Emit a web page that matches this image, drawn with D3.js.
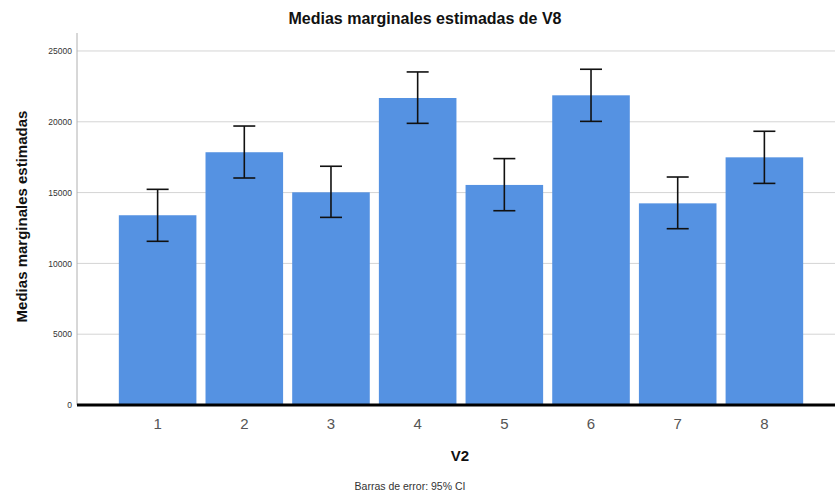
<!DOCTYPE html>
<html>
<head>
<meta charset="utf-8">
<script src="https://cdn.jsdelivr.net/npm/d3@7"></script>
<style>
  html, body { margin: 0; padding: 0; background: #fff; }
  svg { display: block; font-family: "Liberation Sans", Arial, sans-serif; }
</style>
</head>
<body>
<svg id="chart" width="835" height="495"></svg>
<script>
const categories = ["1", "2", "3", "4", "5", "6", "7", "8"];
const means = [13400, 17850, 15020, 21680, 15540, 21870, 14240, 17490];
const ciLower = [11560, 16030, 13250, 19890, 13720, 20030, 12450, 15650];
const ciUpper = [15230, 19700, 16860, 23520, 17400, 23710, 16100, 19330];
const yTicks = [0, 5000, 10000, 15000, 20000, 25000];

const title = "Medias marginales estimadas de V8";
const yTitle = "Medias marginales estimadas";
const xTitle = "V2";
const footnote = "Barras de error: 95% CI";

const svg = d3.select("#chart");
const plotLeft = 77, plotRight = 835, plotTop = 33, plotBottom = 405;

const x = d3.scaleBand().domain(categories).range([114.5, 807.5]).paddingInner(0.105).paddingOuter(0.05);
const y = d3.scaleLinear().domain([0, 26270]).range([plotBottom, plotTop]);

// gridlines
svg.append("g").selectAll("line").data(yTicks.filter(d => d > 0)).join("line")
  .attr("x1", plotLeft).attr("x2", plotRight)
  .attr("y1", d => y(d)).attr("y2", d => y(d))
  .attr("stroke", "#d4d4d4").attr("stroke-width", 1);

// y axis
const yAxis = svg.append("g").attr("transform", `translate(${plotLeft},0)`)
  .call(d3.axisLeft(y).tickValues(yTicks).tickSize(0).tickPadding(5).tickFormat(d3.format("d")));
yAxis.select(".domain").attr("stroke", "#b0b0b0").attr("d", `M0,${plotTop}V${plotBottom}`);
yAxis.selectAll("text").attr("font-size", 8.5).attr("fill", "#333").attr("font-family", "Liberation Sans, Arial, sans-serif");

// bars
const data = categories.map((c, i) => ({ c, m: means[i], lo: ciLower[i], hi: ciUpper[i] }));
svg.append("g").selectAll("rect").data(data).join("rect")
  .attr("x", d => x(d.c)).attr("width", x.bandwidth())
  .attr("y", d => y(d.m)).attr("height", d => y(0) - y(d.m))
  .attr("fill", "#5592e2");

// error bars
const eb = svg.append("g").attr("stroke", "#111").attr("stroke-width", 1.6);
const cx = d => x(d.c) + x.bandwidth() / 2;
eb.selectAll("line.v").data(data).join("line").attr("class", "v")
  .attr("x1", cx).attr("x2", cx).attr("y1", d => y(d.hi)).attr("y2", d => y(d.lo));
eb.selectAll("line.t").data(data).join("line").attr("class", "t")
  .attr("x1", d => cx(d) - 11).attr("x2", d => cx(d) + 11).attr("y1", d => y(d.hi)).attr("y2", d => y(d.hi));
eb.selectAll("line.b").data(data).join("line").attr("class", "b")
  .attr("x1", d => cx(d) - 11).attr("x2", d => cx(d) + 11).attr("y1", d => y(d.lo)).attr("y2", d => y(d.lo));

// x axis baseline and ticks
const xAxis = svg.append("g").attr("transform", `translate(0,${plotBottom})`)
  .call(d3.axisBottom(x).tickSize(0).tickPadding(13));
xAxis.select(".domain").attr("stroke", "#000").attr("stroke-width", 3).attr("d", `M${plotLeft},0H${plotRight}`);
xAxis.selectAll("text").attr("font-size", 15).attr("fill", "#555").attr("font-family", "Liberation Sans, Arial, sans-serif");

// titles
svg.append("text").attr("x", 425).attr("y", 24).attr("text-anchor", "middle")
  .attr("font-size", 16).attr("font-weight", "bold").attr("fill", "#111").text(title);
svg.append("text").attr("transform", `translate(26.5,216.5) rotate(-90)`)
  .attr("text-anchor", "middle").attr("font-size", 15).attr("font-weight", "bold").attr("fill", "#111").text(yTitle);
svg.append("text").attr("x", 460).attr("y", 461).attr("text-anchor", "middle")
  .attr("font-size", 15).attr("font-weight", "bold").attr("fill", "#111").text(xTitle);
svg.append("text").attr("x", 410).attr("y", 490).attr("text-anchor", "middle")
  .attr("font-size", 10.5).attr("fill", "#333").text(footnote);
</script>
</body>
</html>
